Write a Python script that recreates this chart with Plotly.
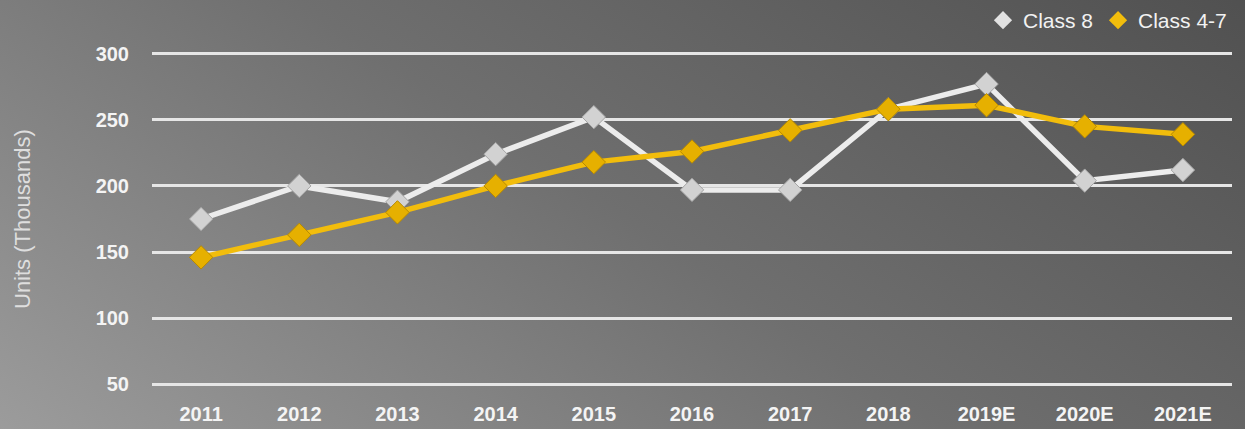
import base64
import plotly.graph_objects as go

years = ["2011", "2012", "2013", "2014", "2015", "2016", "2017", "2018", "2019E", "2020E", "2021E"]
class8 = [175, 200, 188, 224, 252, 197, 197, 258, 277, 204, 212]
class47 = [146, 163, 180, 200, 218, 226, 242, 258, 261, 245, 239]
y_ticks = [50, 100, 150, 200, 250, 300]

W, H = 1245, 429
ml, mr, mt, mb = 152, 13, 47, 38
pw, ph = W - ml - mr, H - mt - mb

svg = f'''<svg xmlns="http://www.w3.org/2000/svg" width="{W}" height="{H}" preserveAspectRatio="none">
<defs><linearGradient id="g" x1="1" y1="0" x2="-0.19" y2="0.66">
<stop offset="0" stop-color="#4f4f4f"/><stop offset="0.5" stop-color="#6f6f6f"/><stop offset="1" stop-color="#9e9e9e"/>
</linearGradient></defs><rect width="100%" height="100%" fill="url(#g)"/></svg>'''
bg = "data:image/svg+xml;base64," + base64.b64encode(svg.encode()).decode()

font_fam = "Liberation Sans, Arial, sans-serif"
pad = 20

fig = go.Figure()
fig.add_trace(go.Scatter(
    x=years, y=class8, mode="lines+markers", name="Class 8", showlegend=False,
    line=dict(color="#ececec", width=5.5),
    marker=dict(symbol="diamond", size=18, color="#d2d2d2", line=dict(color="#a4a4a4", width=1)),
))
fig.add_trace(go.Scatter(
    x=years, y=class47, mode="lines+markers", name="Class 4-7", showlegend=False,
    line=dict(color="#f2bd0c", width=5.5),
    marker=dict(symbol="diamond", size=18, color="#e6b000", line=dict(color="#b88a00", width=1)),
))
fig.add_trace(go.Scatter(x=[None], y=[None], mode="markers", name="Class 8",
                         marker=dict(symbol="diamond", size=14, color="#e2e2e2")))
fig.add_trace(go.Scatter(x=[None], y=[None], mode="markers", name="Class 4-7",
                         marker=dict(symbol="diamond", size=14, color="#f2bd0c")))

fig.update_layout(
    width=W, height=H,
    margin=dict(l=ml, r=mr, t=mt, b=mb, autoexpand=False),
    paper_bgcolor="#6d6d6d",
    plot_bgcolor="rgba(0,0,0,0)",
    font=dict(family=font_fam, color="#f2f2f2"),
    images=[dict(source=bg, xref="paper", yref="paper",
                 x=-(ml + pad) / pw, y=1 + (mt + pad) / ph,
                 sizex=(W + 2 * pad) / pw, sizey=(H + 2 * pad) / ph,
                 xanchor="left", yanchor="top", sizing="stretch", layer="below")],
    legend=dict(orientation="h", x=1.0, xanchor="right", y=1 + mt / ph, yanchor="top",
                font=dict(size=21, color="#f2f2f2"), bgcolor="rgba(0,0,0,0)",
                itemwidth=30, tracegroupgap=0),
    xaxis=dict(type="category", categoryorder="array", categoryarray=years,
               range=[-0.5, len(years) - 0.5], showgrid=False, zeroline=False, showline=False,
               ticks="", tickfont=dict(size=20, color="#f4f4f4", family=font_fam, weight="bold"),
               ticklabelstandoff=9),
    yaxis=dict(range=[45, 305], tickvals=y_ticks, showgrid=True, gridcolor="#e6e6e6", gridwidth=3,
               zeroline=False, showline=False, ticks="",
               tickfont=dict(size=20, color="#f4f4f4", family=font_fam, weight="bold"),
               ticklabelstandoff=22),
    annotations=[dict(text="Units (Thousands)", textangle=-90, xref="paper", yref="paper",
                      x=(22 - ml) / pw, y=0.5, xanchor="center", yanchor="middle", showarrow=False,
                      font=dict(size=22, color="#dedede", family=font_fam))],
)

fig.write_html("out.html")
